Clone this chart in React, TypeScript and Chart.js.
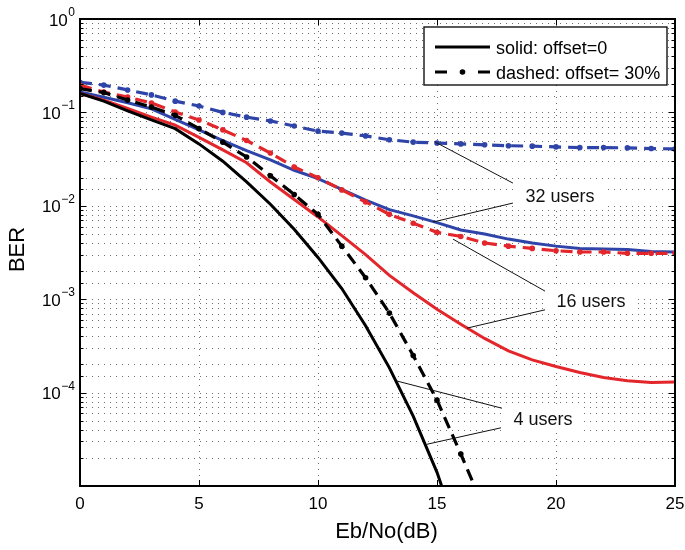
import React, { useEffect, useRef } from "react";
import { Chart, registerables } from "chart.js";

Chart.register(...registerables);

// ---------------- data ----------------
const snrDb = [0, 1, 2, 3, 4, 5, 6, 7, 8, 9, 10, 11, 12, 13, 14, 15, 16, 17, 18, 19, 20, 21, 22, 23, 24, 25];

const ber4Solid = [0.16, 0.132, 0.104, 0.083, 0.067, 0.046, 0.03, 0.018, 0.0104, 0.0056, 0.0028, 0.0013, 5.2e-4, 1.84e-4, 5.6e-5, 1.4e-5, 2.5e-6];
const ber4Dashed = [0.18, 0.163, 0.136, 0.114, 0.093, 0.067, 0.048, 0.0333, 0.021, 0.0132, 0.0081, 0.0037, 0.0017, 7.1e-4, 2.5e-4, 8.3e-5, 2.2e-5, 5.6e-6];
const ber16Solid = [0.16, 0.135, 0.11, 0.089, 0.073, 0.054, 0.0397, 0.0289, 0.018, 0.0117, 0.0076, 0.0048, 0.003, 0.0018, 0.00117, 7.8e-4, 5.4e-4, 3.8e-4, 2.8e-4, 2.24e-4, 1.9e-4, 1.64e-4, 1.45e-4, 1.34e-4, 1.28e-4, 1.3e-4];
const ber16Dashed = [0.196, 0.165, 0.146, 0.126, 0.101, 0.083, 0.065, 0.05, 0.0367, 0.026, 0.02, 0.0148, 0.011, 0.0081, 0.0065, 0.0052, 0.0047, 0.004, 0.0037, 0.0035, 0.0033, 0.0032, 0.0032, 0.0031, 0.0031, 0.0031];
const ber32Solid = [0.165, 0.145, 0.127, 0.109, 0.084, 0.065, 0.05, 0.039, 0.031, 0.024, 0.0195, 0.015, 0.0115, 0.0091, 0.0078, 0.0066, 0.0055, 0.005, 0.0044, 0.004, 0.0037, 0.0035, 0.00345, 0.0034, 0.00325, 0.0032];
const ber32Dashed = [0.21, 0.196, 0.174, 0.154, 0.132, 0.117, 0.1, 0.089, 0.081, 0.0715, 0.063, 0.06, 0.056, 0.051, 0.048, 0.047, 0.046, 0.045, 0.044, 0.0435, 0.0427, 0.042, 0.042, 0.0417, 0.041, 0.0406];

const xTickValues = [0, 5, 10, 15, 20, 25];
const yTickExponents = [0, -1, -2, -3, -4];

const xTitle = "Eb/No(dB)";
const yTitle = "BER";

const legendLabels = ["solid: offset=0", "dashed: offset= 30%"];

// callouts: label, label anchor (data coords), leader lines [fromX, fromY, toX, toY] (data coords)
const calloutLabels = ["32 users", "16 users", "4 users"];
const calloutAnchors = [
  [20.17, 0.013],
  [21.47, 9.8e-4],
  [19.45, 5.3e-5],
];
const calloutLines = [
  [[18.19, 0.0175, 14.92, 0.0482], [18.19, 0.0107, 14.83, 0.0067]],
  [[19.54, 0.00122, 15.67, 0.0044], [19.54, 7.7e-4, 16.26, 4.9e-4]],
  [[17.73, 6.8e-5, 13.32, 1.33e-4], [17.69, 4.2e-5, 14.58, 2.8e-5]],
];

// ---------------- styles ----------------
const FONT = "'Liberation Sans', Arial, Helvetica, sans-serif";
const BLACK = "#000000";
const RED = "#e3262b";
const BLUE = "#2f44a8";

function toPoints(values: number[]) {
  return values.map((v, i) => ({ x: snrDb[i], y: v }));
}

function solidSet(label: string, values: number[], color: string) {
  return {
    label,
    data: toPoints(values),
    borderColor: color,
    backgroundColor: color,
    borderWidth: 3,
    pointRadius: 0,
    tension: 0,
    clip: 0,
    fill: false,
  };
}

function dashedSet(label: string, values: number[], color: string) {
  return {
    label,
    data: toPoints(values),
    borderColor: color,
    backgroundColor: color,
    borderWidth: 3.2,
    borderDash: [12, 7],
    pointRadius: 2.8,
    pointBorderWidth: 0,
    pointBackgroundColor: color,
    pointStyle: "circle",
    tension: 0,
    clip: 0,
    fill: false,
  };
}

const decorPlugin = {
  id: "matlabDecor",
  beforeDatasetsDraw(chart: any) {
    const { ctx, chartArea } = chart;
    const { left, right, top, bottom } = chartArea;
    const xs = chart.scales.x;
    const ys = chart.scales.y;
    ctx.save();
    ctx.strokeStyle = "#707070";
    ctx.lineWidth = 1;
    ctx.setLineDash([1, 5]);
    for (const t of xs.ticks) {
      if (t.value <= xs.min || t.value >= xs.max) continue;
      const px = Math.round(xs.getPixelForValue(t.value)) + 0.5;
      ctx.beginPath();
      ctx.moveTo(px, top);
      ctx.lineTo(px, bottom);
      ctx.stroke();
    }
    for (const t of ys.ticks) {
      if (t.value <= ys.min * 1.0001 || t.value >= ys.max * 0.9999) continue;
      const py = Math.round(ys.getPixelForValue(t.value)) + 0.5;
      ctx.beginPath();
      ctx.moveTo(left, py);
      ctx.lineTo(right, py);
      ctx.stroke();
    }
    ctx.restore();
  },
  afterDatasetsDraw(chart: any) {
    const { ctx, chartArea } = chart;
    const { left, right, top, bottom } = chartArea;
    const xs = chart.scales.x;
    const ys = chart.scales.y;
    ctx.save();
    ctx.setLineDash([]);

    // callouts
    ctx.strokeStyle = "#111";
    ctx.lineWidth = 1;
    ctx.font = `18px ${FONT}`;
    calloutLabels.forEach((lab, i) => {
      const [ax, ay] = calloutAnchors[i];
      const cx = xs.getPixelForValue(ax);
      const cy = ys.getPixelForValue(ay);
      const w = ctx.measureText(lab).width;
      ctx.fillStyle = "#ffffff";
      ctx.fillRect(cx - w / 2 - 10, cy - 14, w + 20, 28);
      for (const ln of calloutLines[i]) {
        ctx.beginPath();
        ctx.moveTo(xs.getPixelForValue(ln[0]), ys.getPixelForValue(ln[1]));
        ctx.lineTo(xs.getPixelForValue(ln[2]), ys.getPixelForValue(ln[3]));
        ctx.stroke();
      }
      ctx.fillStyle = "#111";
      ctx.textAlign = "center";
      ctx.textBaseline = "alphabetic";
      ctx.fillText(lab, cx, cy + 6.5);
    });

    // frame
    ctx.strokeStyle = BLACK;
    ctx.lineWidth = 2;
    ctx.strokeRect(left, top, right - left, bottom - top);

    // ticks
    ctx.lineWidth = 1;
    for (const t of xs.ticks) {
      const px = Math.round(xs.getPixelForValue(t.value)) + 0.5;
      ctx.beginPath();
      ctx.moveTo(px, bottom);
      ctx.lineTo(px, bottom - 6);
      ctx.moveTo(px, top);
      ctx.lineTo(px, top + 6);
      ctx.stroke();
    }
    for (const t of ys.ticks) {
      const py = Math.round(ys.getPixelForValue(t.value)) + 0.5;
      const major = Math.abs(Math.log10(t.value) - Math.round(Math.log10(t.value))) < 1e-6;
      const len = major ? 6 : 3.5;
      ctx.beginPath();
      ctx.moveTo(left, py);
      ctx.lineTo(left + len, py);
      ctx.moveTo(right, py);
      ctx.lineTo(right - len, py);
      ctx.stroke();
    }

    // x tick labels
    ctx.fillStyle = BLACK;
    ctx.font = `17px ${FONT}`;
    ctx.textAlign = "center";
    ctx.textBaseline = "alphabetic";
    for (const v of xTickValues) {
      ctx.fillText(String(v), xs.getPixelForValue(v), bottom + 23);
    }

    // y tick labels with superscript exponents
    for (const e of yTickExponents) {
      const py = ys.getPixelForValue(Math.pow(10, e));
      const expText = e === 0 ? "0" : "\u2212" + String(-e);
      ctx.font = `12px ${FONT}`;
      ctx.textAlign = "right";
      const ew = ctx.measureText(expText).width;
      ctx.fillText(expText, left - 5, py - 3);
      ctx.font = `17px ${FONT}`;
      ctx.fillText("10", left - 5 - ew - 0.5, py + 6.5);
    }

    // axis titles
    ctx.font = `22px ${FONT}`;
    ctx.textAlign = "center";
    ctx.fillText(xTitle, (left + right) / 2 + 9, 538);
    ctx.save();
    ctx.translate(24, (top + bottom) / 2 - 3);
    ctx.rotate(-Math.PI / 2);
    ctx.textBaseline = "alphabetic";
    ctx.fillText(yTitle, 0, 0);
    ctx.restore();

    // legend
    const bx = 424, by = 27, bw = 243, bh = 58;
    ctx.fillStyle = "#ffffff";
    ctx.fillRect(bx, by, bw, bh);
    ctx.strokeStyle = BLACK;
    ctx.lineWidth = 1.3;
    ctx.strokeRect(bx, by, bw, bh);
    ctx.font = `18px ${FONT}`;
    ctx.textAlign = "left";
    ctx.fillStyle = BLACK;
    legendLabels.forEach((lab, i) => {
      const ly = by + 20 + i * 25;
      ctx.strokeStyle = BLACK;
      ctx.lineWidth = 3;
      if (i === 0) {
        ctx.setLineDash([]);
      } else {
        ctx.setLineDash([12, 31]);
      }
      ctx.beginPath();
      ctx.moveTo(bx + 11, ly);
      ctx.lineTo(bx + 66, ly);
      ctx.stroke();
      ctx.setLineDash([]);
      if (i === 1) {
        ctx.beginPath();
        ctx.arc(bx + 38.5, ly, 2.8, 0, Math.PI * 2);
        ctx.fill();
      }
      ctx.fillText(lab, bx + 72, ly + 6.5);
    });

    ctx.restore();
  },
};

export default function App() {
  const canvasRef = useRef<HTMLCanvasElement | null>(null);

  useEffect(() => {
    if (!canvasRef.current) return;
    const chart = new Chart(canvasRef.current, {
      type: "line",
      data: {
        datasets: [
          solidSet("4 users, offset=0", ber4Solid, BLACK),
          dashedSet("4 users, offset=30%", ber4Dashed, BLACK),
          solidSet("16 users, offset=0", ber16Solid, RED),
          dashedSet("16 users, offset=30%", ber16Dashed, RED),
          solidSet("32 users, offset=0", ber32Solid, BLUE),
          dashedSet("32 users, offset=30%", ber32Dashed, BLUE),
        ] as any,
      },
      options: {
        animation: false,
        responsive: false,
        devicePixelRatio: 1,
        events: [],
        layout: { padding: { top: 19, right: 10, left: 0, bottom: 0 } },
        plugins: {
          legend: { display: false },
          tooltip: { enabled: false },
          title: { display: false },
        },
        scales: {
          x: {
            type: "linear",
            min: 0,
            max: 25,
            ticks: { display: false, stepSize: 5 },
            grid: { display: false },
            border: { display: false },
            afterFit: (s: any) => {
              s.height = 64;
            },
          },
          y: {
            type: "logarithmic",
            min: 1e-5,
            max: 1,
            ticks: { display: false },
            grid: { display: false },
            border: { display: false },
            afterFit: (s: any) => {
              s.width = 80;
            },
          },
        },
      } as any,
      plugins: [decorPlugin],
    });
    return () => chart.destroy();
  }, []);

  return (
    <div style={{ position: "absolute", left: 0, top: 0, width: 685, height: 550, background: "#fff" }}>
      <canvas ref={canvasRef} width={685} height={550} style={{ width: 685, height: 550, display: "block" }} />
    </div>
  );
}
